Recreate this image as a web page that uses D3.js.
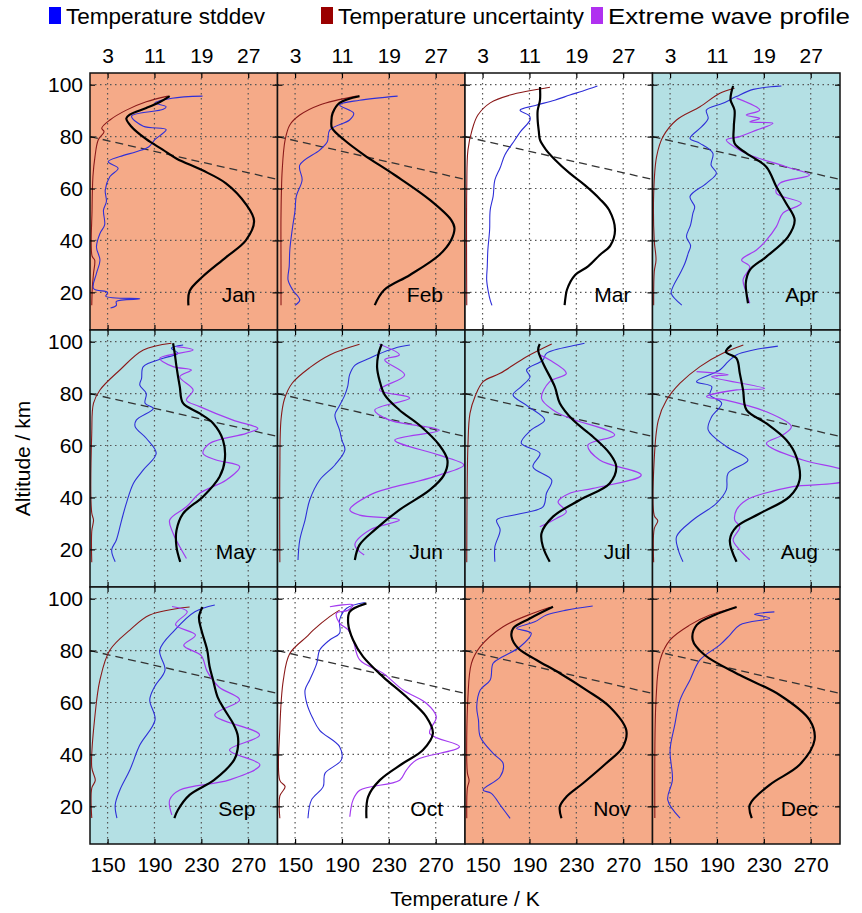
<!DOCTYPE html>
<html>
<head>
<meta charset="utf-8">
<script src="https://cdn.jsdelivr.net/npm/d3@7"></script>
<style>
  body { margin: 0; background: #fff; }
  text { font-family: "Liberation Sans", Arial, sans-serif; }
</style>
</head>
<body>
<svg id="chart"></svg>
<script>
// ---- data: [altitude km, value] pairs ----
const months = ["Jan", "Feb", "Mar", "Apr", "May", "Jun", "Jul", "Aug", "Sep", "Oct", "Nov", "Dec"];
const season = ["winter", "winter", "equinox", "summer", "summer", "summer", "summer", "summer", "summer", "equinox", "winter", "winter"];

const tempTicks = [150, 190, 230, 270];
const stdTicks = [3, 11, 19, 27];
const altTicks = [20, 40, 60, 80, 100];
const refLine = [[80, 135], [63.5, 295]]; // dashed line, same in every panel

// mean temperature (K)
const janMean = [[95.6,203],[93.4,195],[91,183],[88.5,169],[87,166],[84,170],[79,183],[75,197],[71.5,209],[67,231],[62,251],[54,268],[47.5,275],[40,268],[33.5,251],[26,231],[20.5,220],[15,219]];
const febMean = [[95.6,205],[93,188],[89,182],[86,181],[83.3,181.5],[78.7,192],[72.9,209],[65.2,235],[55.6,265],[48,283],[44.8,286],[40,283],[34.4,273],[26.7,248],[20.9,226],[15.1,218]];
const marMean = [[99.1,199],[94.1,199],[90,197],[86.4,197],[82,198],[78.7,199],[75,204],[71,212],[66,224],[61.4,237],[56,250],[51.7,258],[44,263],[38,259],[34.4,250],[30,240],[26.7,229],[21,222],[15.1,220]];
const aprMean = [[99.5,203.8],[97.3,202.4],[94.1,201.6],[90.2,205],[83.8,204.4],[77.4,205],[73.6,215],[68.4,232],[60.7,240.7],[54.3,249],[47.9,256.3],[41.4,250.6],[33.7,232],[28.6,218],[23.5,214.6],[15.8,216.5]];
const mayMean = [[99.4,205.9],[95.5,207.3],[90.4,208.8],[82.7,211.6],[76.3,214.4],[72.4,228.6],[68.6,240],[62.1,248.5],[54.4,250],[48,245.6],[40.3,231.4],[33.8,214.4],[27.3,208.8],[21,208.8],[15.2,212]];
const junMean = [[99.1,224],[95,221],[90,220],[85.2,222],[79.5,226.5],[73.7,239],[67.9,256],[60.2,273],[54.4,280],[48.6,277],[42.9,265],[35.2,239],[27.5,218],[21.7,205],[15.9,201]];
const julMean = [[99.1,198.8],[96.8,197.4],[91.7,201.6],[82.7,211.6],[76.3,215.9],[69.8,227.2],[63.4,244.2],[57,258.4],[51.8,264.1],[45.4,258.4],[39,232.9],[32.6,210.1],[26.2,200.3],[20.9,201.6],[15.2,207.3]];
const augMean = [[98.7,202.4],[96.1,197.6],[93.6,206.7],[87.8,209.5],[81.4,212.3],[73.7,215.2],[68.5,232.2],[62.1,249.2],[55.7,257.7],[46.7,260.5],[40.3,252],[33.8,226.5],[28.7,206.7],[23.6,201],[15.2,206.7]];
const sepMean = [[96.8,231],[93,228],[88,230],[80.2,235],[74,237],[68.7,240],[62,244],[57.1,250],[52,257],[47.5,261],[42,261],[37.9,258],[30.2,241],[24.4,220],[18.6,210],[15.5,207]];
const octMean = [[98.2,210.9],[95,196.7],[90.5,195.3],[84.1,199.5],[77.7,208],[69.9,225.1],[62.2,245],[54.5,262],[48.1,267.6],[41.7,259.1],[36.6,242.1],[30.1,222.3],[23.7,212.3],[15.4,210.9]];
const novMean = [[96.9,210.1],[92.4,190.3],[88.6,176.1],[85.4,174.7],[80.9,180.4],[76.4,196],[71.3,215.9],[64.8,238.6],[58.4,258.4],[49.4,272.6],[42.9,269.7],[36.6,255.5],[28.9,235.7],[23.7,221.5],[19.9,215.9],[15.4,217.3]];
const decMean = [[96.8,206.8],[93.7,188],[89.9,172.8],[84.1,169.3],[78.3,179.5],[70.6,209.5],[62.9,243.5],[53.3,269],[45.6,273.3],[36,260.5],[28.3,235],[20.6,218],[15.5,219.7]];

// temperature stddev (K, top axis)
const janStd = [[95.6,19.2],[94.8,14],[93,11.1],[91.5,13],[90.5,12.5],[87.9,7.1],[84,9.1],[82.7,13],[80.5,12],[78.9,11.1],[76,10],[74.2,7.9],[72.3,5.1],[70.3,3.1],[67.8,4.8],[64.6,3.4],[59.4,2.6],[55,2.8],[51.7,2.3],[46,2.5],[42.7,1.7],[37.5,1.1],[32.4,1.7],[27.3,1.1],[21.5,0.6],[20,3],[18.5,2.7],[17.5,8.5],[16.5,4.5],[15,4.5],[14,3.5]];
const febStd = [[95.6,20.5],[94,14],[92.2,10.6],[89,13],[86.4,12.3],[82.5,8.9],[78,8.5],[74.8,7.2],[69,3.8],[63.3,4.2],[57,3.2],[51.7,3],[44,2.5],[36.3,2.1],[30,2],[24.8,1.8],[20.9,2.6],[17,3.8],[15,3]];
const marStd = [[99.5,22.6],[97.5,20],[96,17.9],[94,15.3],[92,12],[90.2,9.4],[88,11],[86.4,11.1],[82,9.5],[78.7,8.5],[72.9,6.8],[68,6],[63.3,5.1],[57,4.8],[51.7,4.3],[44,4.2],[36.3,3.9],[30,3.8],[24.8,3.7],[20,4],[17,4.3],[15,4.6]];
const aprStd = [[99.5,22],[98.2,17.2],[95.4,14.3],[92.8,12],[90.2,9.2],[87,9.5],[83.8,8.4],[79.3,6.4],[77.4,8.1],[73.6,10.3],[69,10],[65.9,10.9],[62,9.2],[56.9,6.4],[53,7.2],[50.5,6.9],[46,6.5],[41.4,5.8],[38,6.5],[35.1,6.1],[31,5.5],[27.3,4.7],[22.2,3.5],[19.6,3.2],[15.1,5]];
const mayStd = [[98.7,15.9],[97.5,13.9],[95.5,15],[93.6,12.5],[90.4,9.1],[85.9,8.8],[83.3,8.5],[80.1,9.6],[76.3,9.4],[74.3,10.8],[69.8,7.9],[67.3,7.7],[62.8,9.6],[57,11.3],[50.6,9.1],[45.4,7.4],[37.7,6.2],[31.3,5.4],[23.6,4.5],[19.8,3.7],[15.2,4.3]];
const junStd = [[98.7,22.6],[97.5,20],[95,17],[93.6,15.7],[90.9,13.2],[87.2,12.3],[83,12],[79.5,11.5],[75,10.5],[71.8,9.8],[65.9,10.6],[62,11],[58.3,11.5],[52.5,9.8],[46.7,7.2],[39,5.5],[31.3,4.7],[23.6,3.8],[15.9,3.5]];
const julStd = [[99.4,20.4],[98.7,19],[95.5,13.9],[92.9,13.3],[89.1,10.5],[86.5,11.1],[82.7,9.6],[79.5,8.2],[75,10.8],[69.8,13.6],[66,11.3],[60.9,9.6],[57,12.8],[51.8,11.6],[46.7,14.8],[41.6,13.9],[36.4,13.3],[33.5,9],[31.3,5.4],[27.5,6],[21,5.1],[15.2,5.1]];
const augStd = [[98.3,21.4],[96.8,17.2],[94.9,14.3],[92.3,12.9],[89.1,11.5],[84.6,7.5],[82.7,10.1],[79.5,9.8],[76.3,11.8],[71.1,10.1],[66,9.5],[59.6,12.6],[54.4,16.3],[49.3,12.9],[42.9,12.6],[37.7,10.9],[31.3,6.9],[24.9,4.1],[19.8,4.4],[15.2,5.2]];
const sepStd = [[97.6,21.3],[95,17.9],[88,14.5],[80.2,11.9],[72.5,12.8],[66,11],[61,10.2],[53.3,11.1],[43.6,8.5],[34,6.8],[26.3,5.1],[20.5,4.3],[15.5,4.6]];
const octStd = [[98.5,14.9],[96.3,11.8],[91.8,10.6],[86.7,10.6],[84.1,8.9],[80.2,7.2],[75.1,6.7],[68.7,5.5],[64.8,4.7],[59.7,5],[54,6],[49.3,7.2],[43,10.6],[37.9,10.9],[32.7,8.1],[27.6,7.8],[22.5,5.8],[15.4,5.2]];
const novStd = [[97.2,21.8],[95.6,17.3],[93.7,13.9],[91.1,11.9],[88.6,8.8],[86.7,11.3],[81.5,9.4],[77.7,6.5],[75.1,4.8],[68.7,4.3],[64.8,2.6],[58.4,2],[53.2,2.3],[46.8,2.6],[40.4,4.8],[36.6,6.5],[31.4,6],[26.3,3.1],[25,4.5],[19.9,6.2],[15.4,7.7]];
const decStd = [[94.9,20.8],[94,17.4],[92.5,20],[89.9,14.9],[86,13.2],[82.2,11.5],[76.4,8.1],[68.7,6.4],[61,4.7],[51.4,3.8],[41.7,3],[30.2,3.4],[22.5,2.6],[15.5,4.7]];

// temperature uncertainty (K, top axis)
const janUnc = [[95.6,13.3],[93.4,9.6],[90.2,6.2],[86.4,3.4],[83.2,2.0],[81.9,2.4],[78.7,1.4],[72.3,0.85],[64.6,0.5],[51.8,0.35],[34,0.35],[32.4,0.8],[27.3,0.6],[22,0.4],[15,0.3]];
const febUnc = [[95.6,13.5],[92.2,7.2],[88.3,3.8],[84.5,2.1],[78.7,1.3],[67,0.8],[50,0.6],[30,0.6],[15,0.6]];
const marUnc = [[99,14.5],[96,7.7],[93,4.3],[88.3,2.2],[82.5,1.2],[74.8,0.5],[60,0.3],[15,0.3]];
const aprUnc = [[98.6,14],[96.7,11.5],[91.5,8.1],[86.4,4.1],[80,1.8],[72.3,0.7],[58,0.2],[40,0.3],[32.5,0.6],[28,0.3],[15,0.2]];
const mayUnc = [[99.4,13.9],[96.8,9.1],[89.1,5.1],[81.4,1.7],[76.3,0.6],[65,0.3],[34,0.3],[31.3,0.6],[27,0.3],[15,0.3]];
const junUnc = [[99,14],[95,9],[90,5.5],[84,2.5],[78,1.2],[70,0.6],[50,0.4],[15,0.4]];
const julUnc = [[99.1,14.8],[94.2,10.5],[87.8,6],[84.6,3.1],[78.8,1.7],[72.4,0.85],[60,0.5],[15,0.3]];
const augUnc = [[98.7,15.5],[95.5,12],[90.4,8.1],[84,4.7],[77.5,2.4],[69.8,1],[55,0.3],[33,0.3],[31,0.9],[28,0.3],[15,0.2]];
const sepUnc = [[96.8,17],[93.7,10.2],[87.9,6.8],[80.2,3.4],[68.7,1.7],[55,0.85],[35,0.3],[30,0.9],[27,0.3],[15.5,0.3]];
const octUnc = [[95.6,10.6],[93.1,8.9],[87.9,6.1],[85.4,5],[78.9,2.1],[68.7,1],[50,0.4],[30,0.4],[27.6,1.3],[24,0.4],[15.4,0.4]];
const novUnc = [[96.7,14.5],[94.4,11.6],[89.2,6.5],[81.5,2.6],[75.1,1.1],[62,0.5],[33,0.4],[30,0.7],[27,0.4],[15.4,0.3]];
const decUnc = [[96.4,14],[93.7,9.8],[89.9,6.4],[84.1,3],[76.4,1.3],[61,0.6],[15.5,0.4]];

// extreme wave profile (K), Apr-Oct only
const aprWave = [[94.8,206.7],[90.2,226.5],[88.3,215],[87,226.5],[85.7,218],[85.1,237.8],[82.5,223.7],[80,209.5],[78.7,198],[76,205],[72.9,218],[68.4,249],[65.2,269],[62,243.5],[58.2,240.7],[54.3,262],[50.5,246.3],[45.3,240.7],[40,232],[36.3,223.7],[32.5,211],[29.9,218],[24.8,212.3],[20,215],[15.8,218]];
const mayWave = [[98.1,208.8],[96.8,223],[93.6,194.6],[90.4,205.9],[89.1,221.5],[86.5,211.6],[81.4,223],[77.5,217.3],[75,228.6],[69.8,257],[66.6,278.2],[64.7,268.4],[60.8,237],[57,231.4],[54.4,242.7],[51.9,262.7],[46.7,251.3],[41.6,228.6],[36.4,217.3],[31.3,203],[26.2,205.9],[21,211.6],[16.5,217.3]];
const junWave = [[99,222],[94.9,239],[93,226.5],[87.2,243.5],[81.4,222],[78.3,247.8],[73.7,218],[69.8,230.7],[65.9,273],[62.1,235],[56.3,273],[52.5,294],[48.6,273],[45.9,252],[43.6,230.7],[40.9,213.7],[35.2,196.7],[33.2,205],[31.3,239],[27.5,213.7],[21.7,201],[17.8,209]];
const julWave = [[94.9,198.8],[92.9,207.3],[87.8,221.5],[84.6,207.3],[78.2,200.3],[73.7,210.1],[70.5,224.4],[64.1,262.7],[60.2,239.9],[54.4,249.9],[48.6,285.4],[43.5,244.2],[41.6,224.4],[38.3,214.4],[34.5,221.5],[31.9,213],[28.7,198.8]];
const augWave = [[88.5,172.6],[87.3,199.5],[86.5,185.4],[82,230.7],[81.4,206.7],[78.8,181.1],[77.6,196.7],[73,232.2],[67.3,253.5],[64.1,246.3],[60.8,232.2],[54.4,263.3],[49.9,300],[46.7,300],[44.2,254.8],[41.6,230.7],[39,215.2],[35.2,206.7],[31.3,205.2],[28.7,209.5],[23.6,203.8],[19.8,209.5],[15.9,218]];
const sepWave = [[97,205],[95,218],[90,208],[86,225],[82,215],[78,230],[72,235],[66,245],[61,262.7],[55.2,241.4],[47.5,279.7],[41.7,254],[36,280],[30.2,254],[26.3,211.6],[22.5,203],[16.7,204.8]];
const octWave = [[96.9,179.7],[97.6,199.5],[95.5,195],[94.4,185.4],[90.5,188.2],[88,195.3],[84.1,199.5],[76.4,205.2],[71.3,225.1],[64.8,242.1],[59.7,262],[54.5,270.5],[48.1,264.9],[43,290.3],[37.9,253.5],[34,245],[30.1,239.3],[26.2,205.2],[22.5,199.5],[16,196.7]];

const meanProfiles = [janMean, febMean, marMean, aprMean, mayMean, junMean, julMean, augMean, sepMean, octMean, novMean, decMean];
const stdProfiles = [janStd, febStd, marStd, aprStd, mayStd, junStd, julStd, augStd, sepStd, octStd, novStd, decStd];
const uncProfiles = [janUnc, febUnc, marUnc, aprUnc, mayUnc, junUnc, julUnc, augUnc, sepUnc, octUnc, novUnc, decUnc];
const waveProfiles = [null, null, null, aprWave, mayWave, junWave, julWave, augWave, sepWave, octWave, null, null];

const legendLabels = ["Temperature stddev", "Temperature uncertainty", "Extreme wave profile"];

// ---- layout ----
const config = { width: 862, height: 913, left: 90, top: 73, colW: 187.5, rowH: 257 };
const seasonFill = { winter: "#f5aa88", summer: "#b4e0e4", equinox: "#ffffff" };

const svg = d3.select("#chart").attr("width", config.width).attr("height", config.height);

const xT = d3.scaleLinear().domain([135, 295]).range([0, config.colW]);
const xS = d3.scaleLinear().domain([0, 32]).range([0, config.colW]);
const y = d3.scaleLinear().domain([5.5, 104.5]).range([config.rowH, 0]);

const tempLine = d3.line().x(d => xT(d[1])).y(d => y(d[0])).curve(d3.curveCatmullRom.alpha(0.5));
const stdLine = d3.line().x(d => xS(d[1])).y(d => y(d[0])).curve(d3.curveCatmullRom.alpha(0.5));

svg.append("defs").append("clipPath").attr("id", "panel-clip")
  .append("rect").attr("width", config.colW).attr("height", config.rowH);

months.forEach((m, i) => {
  const col = i % 4, row = Math.floor(i / 4);
  const g = svg.append("g")
    .attr("transform", `translate(${config.left + col * config.colW},${config.top + row * config.rowH})`);

  g.append("rect").attr("width", config.colW).attr("height", config.rowH)
    .attr("fill", seasonFill[season[i]]);

  // dotted grid
  g.selectAll(".vgrid").data(tempTicks).join("line")
    .attr("x1", d => xT(d)).attr("x2", d => xT(d))
    .attr("y1", 0).attr("y2", config.rowH)
    .attr("stroke", "#555").attr("stroke-width", 1.2).attr("stroke-dasharray", "1.5,3.5");
  g.selectAll(".hgrid").data(altTicks).join("line")
    .attr("x1", 0).attr("x2", config.colW)
    .attr("y1", d => y(d)).attr("y2", d => y(d))
    .attr("stroke", "#555").attr("stroke-width", 1.2).attr("stroke-dasharray", "1.5,3.5");

  const plot = g.append("g").attr("clip-path", "url(#panel-clip)");

  plot.append("path").datum(refLine)
    .attr("d", d3.line().x(d => xT(d[1])).y(d => y(d[0])))
    .attr("stroke", "#333").attr("stroke-width", 1.3).attr("stroke-dasharray", "8,5").attr("fill", "none");

  plot.append("path").datum(uncProfiles[i]).attr("d", stdLine)
    .attr("stroke", "#8b1a1a").attr("stroke-width", 1.1).attr("fill", "none");

  plot.append("path").datum(stdProfiles[i]).attr("d", stdLine)
    .attr("stroke", "#2f2fd8").attr("stroke-width", 1.1).attr("fill", "none");

  if (waveProfiles[i]) {
    plot.append("path").datum(waveProfiles[i]).attr("d", tempLine)
      .attr("stroke", "#a43cf0").attr("stroke-width", 1.2).attr("fill", "none");
  }

  plot.append("path").datum(meanProfiles[i]).attr("d", tempLine)
    .attr("stroke", "#000").attr("stroke-width", 2.2).attr("fill", "none");

  // inward ticks on all sides; labels only on outer edges
  const styleAxis = sel => {
    sel.select(".domain").remove();
    sel.selectAll(".tick line").attr("stroke", "#000").attr("stroke-width", 1.2);
    sel.selectAll(".tick text").attr("font-size", 21).attr("fill", "#000")
      .attr("font-family", "Liberation Sans, Arial, sans-serif");
  };
  g.append("g").attr("transform", `translate(0,${config.rowH})`)
    .call(d3.axisBottom(xT).tickValues(tempTicks).tickSize(-5).tickPadding(13)
      .tickFormat(row === 2 ? d3.format("d") : () => ""))
    .call(styleAxis);
  g.append("g")
    .call(d3.axisTop(xS).tickValues(stdTicks).tickSize(-5).tickPadding(10)
      .tickFormat(row === 0 ? d3.format("d") : () => ""))
    .call(styleAxis);
  g.append("g")
    .call(d3.axisLeft(y).tickValues(altTicks).tickSize(-5).tickPadding(7)
      .tickFormat(col === 0 ? d3.format("d") : () => ""))
    .call(styleAxis);
  g.append("g").attr("transform", `translate(${config.colW},0)`)
    .call(d3.axisRight(y).tickValues(altTicks).tickSize(-5).tickFormat(() => ""))
    .call(styleAxis);

  g.append("rect").attr("width", config.colW).attr("height", config.rowH)
    .attr("fill", "none").attr("stroke", "#111").attr("stroke-width", 1.5);

  g.append("text").attr("x", config.colW - 22).attr("y", config.rowH - 28)
    .attr("text-anchor", "end").attr("font-size", 21).attr("fill", "#000").text(m);
});

// axis titles
svg.append("text").attr("x", config.left + 2 * config.colW).attr("y", 906)
  .attr("text-anchor", "middle").attr("font-size", 21).text("Temperature / K");
svg.append("text")
  .attr("transform", `translate(30,${config.top + 1.5 * config.rowH}) rotate(-90)`)
  .attr("text-anchor", "middle").attr("font-size", 21).text("Altitude / km");

// legend (square x, text width as in the original layout)
const legendSpec = [
  { color: "#0000ff", x: 49, w: 199 },
  { color: "#9a0000", x: 321, w: 246 },
  { color: "#b030f0", x: 591, w: 242 }
];
const legend = svg.append("g");
legend.selectAll("rect").data(legendSpec).join("rect")
  .attr("x", d => d.x).attr("y", 7).attr("width", 12).attr("height", 17).attr("fill", d => d.color);
legend.selectAll("text").data(legendSpec).join("text")
  .attr("x", d => d.x + 17).attr("y", 24).attr("font-size", 22)
  .attr("textLength", d => d.w).attr("lengthAdjust", "spacingAndGlyphs")
  .text((d, i) => legendLabels[i]);
</script>
</body>
</html>
